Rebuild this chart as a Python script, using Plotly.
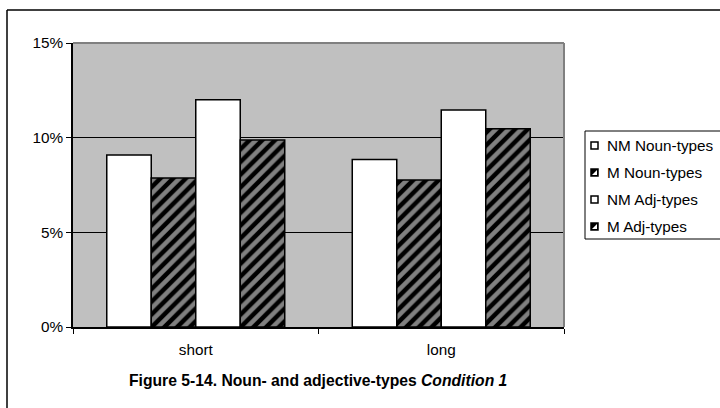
import plotly.graph_objects as go

categories = ["short", "long"]
series_names = ["NM Noun-types", "M Noun-types", "NM Adj-types", "M Adj-types"]
nm_noun = [0.0908, 0.0885]
m_noun = [0.0787, 0.0777]
nm_adj = [0.1200, 0.1146]
m_adj = [0.0988, 0.1047]
y_ticks = [0, 0.05, 0.10, 0.15]
y_labels = ["0%", "5%", "10%", "15%"]

values = [nm_noun, m_noun, nm_adj, m_adj]
hatched = [False, True, False, True]

fig = go.Figure()
for name, vals, h in zip(series_names, values, hatched):
    if h:
        marker = dict(color="black", line=dict(color="black", width=1.5),
                      pattern=dict(shape="/", fgcolor="white", bgcolor="black",
                                   size=9, solidity=0.5, fillmode="overlay"))
    else:
        marker = dict(color="white", line=dict(color="black", width=1.5))
    fig.add_trace(go.Bar(name=name, x=categories, y=vals, marker=marker,
                         showlegend=False))

# plot area in pixels: x 73..564, y 43..327
PX0, PX1, PY0, PY1 = 73, 564, 43, 327
def px(x):
    return (x - PX0) / (PX1 - PX0)
def py(y):
    return (PY1 - y) / (PY1 - PY0)

font = "Liberation Sans, Arial, sans-serif"

def hline(x0, x1, y, color="black", width=1.5):
    return dict(type="line", xref="paper", yref="paper", x0=px(x0), x1=px(x1),
                y0=py(y), y1=py(y), line=dict(color=color, width=width))

def vline(x, y0, y1, color="black", width=1.5):
    return dict(type="line", xref="paper", yref="paper", x0=px(x), x1=px(x),
                y0=py(y0), y1=py(y1), line=dict(color=color, width=width))

shapes = [
    dict(type="line", xref="paper", yref="paper", x0=0, x1=1, y0=1, y1=1,
         line=dict(color="#808080", width=2)),
    dict(type="line", xref="paper", yref="paper", x0=1, x1=1, y0=0, y1=1,
         line=dict(color="#808080", width=2)),
    # outer chart border (cropped at right and bottom)
    hline(7, 720, 10),
    vline(7, 10, 408),
    # legend box (cropped at right)
    hline(585, 720, 131, width=1),
    hline(585, 720, 239, width=1),
    vline(585, 131, 239, width=1),
]
annotations = [
    dict(xref="paper", yref="paper", x=px(317.5), y=py(380),
         xanchor="center", yanchor="middle", showarrow=False,
         text="<b>Figure 5-14. Noun- and adjective-types <i>Condition 1</i></b>",
         font=dict(size=15.7)),
]
legend_y = [145.5, 172.5, 199.5, 226.5]
for name, h, yc in zip(series_names, hatched, legend_y):
    shapes.append(dict(type="rect", xref="paper", yref="paper",
                       x0=px(591), x1=px(598), y0=py(yc + 3.5), y1=py(yc - 3.5),
                       line=dict(color="black", width=1.5),
                       fillcolor="black" if h else "white"))
    if h:
        shapes.append(dict(type="path", xref="paper", yref="paper",
                           path=f"M {px(592)},{py(yc + 2.5)} L {px(597)},{py(yc - 2.5)} L {px(597)},{py(yc + 2.5)} Z",
                           line=dict(width=0), fillcolor="white"))
    annotations.append(dict(xref="paper", yref="paper", x=px(605), y=py(yc),
                            xanchor="left", yanchor="middle", showarrow=False,
                            text=name, font=dict(size=15.3)))

fig.update_layout(
    width=720, height=408,
    margin=dict(l=PX0, r=720 - PX1, t=PY0, b=408 - PY1, autoexpand=False),
    paper_bgcolor="white", plot_bgcolor="#C0C0C0",
    barmode="group", bargap=0.275, bargroupgap=0,
    font=dict(family=font, size=15.3, color="black"),
    showlegend=False,
    xaxis=dict(showline=True, linecolor="black", linewidth=1.5,
               ticks="outside", tickson="boundaries", ticklen=5,
               tickcolor="black", showgrid=False, fixedrange=True,
               ticklabelstandoff=8),
    yaxis=dict(range=[0, 0.15], tickvals=y_ticks, ticktext=y_labels,
               showline=True, linecolor="black", linewidth=1.5,
               ticks="outside", ticklen=5, tickcolor="black",
               showgrid=True, gridcolor="black", gridwidth=1,
               zeroline=False, fixedrange=True),
    shapes=shapes,
    annotations=annotations,
)

fig.write_html("out.html")
